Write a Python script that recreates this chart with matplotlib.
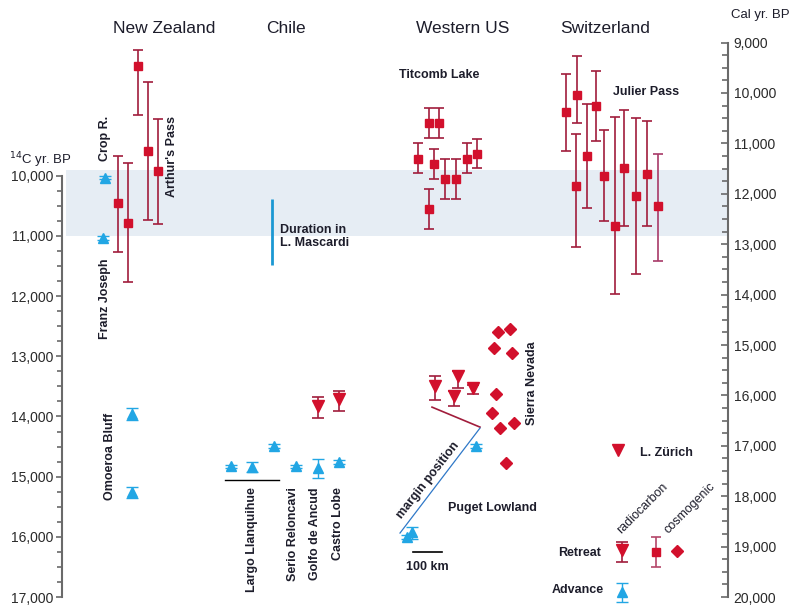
import numpy as np
import matplotlib
matplotlib.use("Agg")
import matplotlib.pyplot as plt
from matplotlib.ticker import FuncFormatter

plt.rcParams['font.family'] = ['Liberation Sans', 'DejaVu Sans']

# ---- data (ages in 14C yr BP) ----
# New Zealand, retreat (radiocarbon) - Arthur's Pass group
nz_ret_age = [10460, 10780, 8180, 9590, 9930]
nz_ret_lo = [9670, 9790, 7910, 8440, 9060]
nz_ret_hi = [11260, 11760, 8990, 10730, 10800]
# New Zealand, advances: Crop R., Franz Joseph, Omoeroa Bluff x2
nz_adv_age = [10030, 11040, 13960, 15260]
nz_adv_lo = [10000, 11010, 13860, 15170]
nz_adv_hi = [10060, 11070, 14060, 15350]

# Chile advances
cl_adv_age = [14830, 14840, 14490, 14830, 14860, 14760]
cl_adv_lo = [14800, 14760, 14460, 14800, 14710, 14730]
cl_adv_hi = [14860, 14920, 14520, 14860, 15020, 14790]
# Chile retreat (radiocarbon)
cl_ret_age = [13830, 13710]
cl_ret_lo = [13680, 13580]
cl_ret_hi = [14030, 13910]
# Duration in L. Mascardi
mascardi = [10380, 11490]

# Western US - Titcomb Lake retreat (radiocarbon)
tl_age = [9720, 9120, 9120, 10550, 9800, 10050, 10050, 9720, 9640]
tl_lo = [9450, 8870, 8870, 10220, 9550, 9720, 9720, 9450, 9390]
tl_hi = [9950, 9370, 9370, 10880, 10050, 10380, 10380, 9950, 9880]
# Western US retreat triangles
wu_ret_age = [13500, 13330, 13660, 13530]
wu_ret_lo = [13330, 13250, 13580, 13470]
wu_ret_hi = [13730, 13530, 13830, 13620]
# Sierra Nevada cosmogenic
sn_age = [12600, 12540, 12870, 12940, 13620, 13950, 14200, 14110, 14780]
# Puget Lowland advances
pl_age = [14490, 16000, 15920]
pl_lo = [14460, 15970, 15830]
pl_hi = [14520, 16030, 16030]

# Switzerland - Julier Pass retreat (radiocarbon)
ch_age = [8940, 8660, 10170, 9670, 8840, 10000, 10830, 9870, 10330, 9970, 10510]
ch_lo = [8310, 8010, 9300, 8810, 8260, 9240, 9020, 8910, 9040, 9090, 9640]
ch_hi = [9590, 9120, 11190, 10530, 9420, 10760, 11970, 10830, 11640, 10830, 11410]

# Younger Dryas band
yd_band = [9900, 11000]

# legend keys
key_ret_rc = [16220, 16090, 16420]
key_ret_sq = [16250, 16000, 16500]
key_ret_cos = 16230
key_adv = [16920, 16760, 17080]
key_zurich = 14560

# ---- layout (x slots in pixel-like units) ----
nz_ret_x = [118, 128, 138, 148, 158]
nz_adv_x = [105, 103, 132, 132]
cl_adv_x = [231, 252, 274, 296, 318, 339]
cl_ret_x = [318, 339]
tl_x = [418, 429, 439, 429, 434, 445, 456, 467, 477]
wu_ret_x = [435, 458, 454, 473]
sn_x = [498, 510, 494, 512, 496, 492, 500, 514, 506]
pl_x = [476, 407, 412]
ch_x = [566, 577, 576, 587, 596, 604, 615, 624, 636, 647, 658]

RED = '#d2102c'
DRED = '#a11d3c'
BLUE = '#22a6e4'
TXT = '#1d1d2b'
AX = '#6a6a6a'

fig = plt.figure(figsize=(8, 6.14), dpi=100)
ax = fig.add_axes([62 / 800, 0, (728 - 62) / 800, 1])
ax.set_xlim(62, 728)
ax.set_ylim(17282, 7081)


def errs(age, lo, hi):
    a = np.array(age)
    return [a - np.array(lo), np.array(hi) - a]


def retreat_sq(x, age, lo, hi, ecol=DRED):
    ax.errorbar(x, age, yerr=errs(age, lo, hi), fmt='s', color=RED, ms=6,
                ecolor=ecol, elinewidth=1.2, capsize=3.5, capthick=1.2, zorder=3)


def retreat_tri(x, age, lo, hi):
    ax.errorbar(x, age, yerr=errs(age, lo, hi), fmt='v', color=RED, ms=8,
                ecolor=DRED, elinewidth=1.2, capsize=4, capthick=1.2, zorder=3)


def advance(x, age, lo, hi):
    ax.errorbar(x, age, yerr=errs(age, lo, hi), fmt='^', color=BLUE, ms=7,
                ecolor=BLUE, elinewidth=1.0, capsize=4, capthick=1.0, zorder=3)


# shaded band
ax.axhspan(yd_band[0], yd_band[1], xmin=0.006, xmax=1, color='#e6edf4', zorder=0, lw=0)

# New Zealand
retreat_sq(nz_ret_x, nz_ret_age, nz_ret_lo, nz_ret_hi)
advance(nz_adv_x, nz_adv_age, nz_adv_lo, nz_adv_hi)

# Chile
advance(cl_adv_x, cl_adv_age, cl_adv_lo, cl_adv_hi)
retreat_tri(cl_ret_x, cl_ret_age, cl_ret_lo, cl_ret_hi)
ax.plot([272, 272], mascardi, color='#1b98d3', lw=2, solid_capstyle='butt')
ax.plot([225, 279], [15055, 15055], color='black', lw=1)

# Western US
retreat_sq(tl_x, tl_age, tl_lo, tl_hi)
retreat_tri(wu_ret_x, wu_ret_age, wu_ret_lo, wu_ret_hi)
ax.plot(sn_x, sn_age, 'D', color=RED, ms=6, zorder=3)
advance(pl_x, pl_age, pl_lo, pl_hi)
ax.plot([432, 480], [13845, 14177], color=DRED, lw=1.2)
ax.plot([400, 480], [15937, 14193], color='#2f78c8', lw=0.9)
ax.plot([413, 442], [16253, 16253], color='black', lw=1.2)

# Switzerland
retreat_sq(ch_x[:-1], ch_age[:-1], ch_lo[:-1], ch_hi[:-1])
retreat_sq(ch_x[-1:], ch_age[-1:], ch_lo[-1:], ch_hi[-1:], ecol='#a83a68')

# legend keys
ax.plot([618], [key_zurich], 'v', color=RED, ms=9)
retreat_tri([622], [key_ret_rc[0]], [key_ret_rc[1]], [key_ret_rc[2]])
retreat_sq([656], [key_ret_sq[0]], [key_ret_sq[1]], [key_ret_sq[2]], ecol='#b4476a')
ax.plot([677], [key_ret_cos], 'D', color=RED, ms=6)
advance([622], [key_adv[0]], [key_adv[1]], [key_adv[2]])

# texts
for name, xc in [('New Zealand', 164), ('Chile', 286), ('Western US', 463), ('Switzerland', 605)]:
    ax.text(xc, 7550, name, ha='center', va='center', fontsize=12.5, color=TXT)

bold = dict(fontsize=9, fontweight='bold', color=TXT)
ax.text(105, 9374, 'Crop R.', rotation=90, ha='center', va='center', **bold)
ax.text(172, 9689, "Arthur's Pass", rotation=90, ha='center', va='center', **bold)
ax.text(105, 12048, 'Franz Joseph', rotation=90, ha='center', va='center', **bold)
ax.text(110, 14672, 'Omoeroa Bluff', rotation=90, ha='center', va='center', **bold)
for name, xc in [('Largo Llanquihue', 252), ('Serio Reloncavi', 293),
                 ('Golfo de Ancud', 315), ('Castro Lobe', 338)]:
    ax.text(xc, 15174, name, rotation=90, ha='center', va='top', **bold)
ax.text(280, 11010, 'Duration in\nL. Mascardi', ha='left', va='center', linespacing=1.1, **bold)
ax.text(439, 8327, 'Titcomb Lake', ha='center', va='center', **bold)
ax.text(532, 13444, 'Sierra Nevada', rotation=90, ha='center', va='center', **bold)
ax.text(428, 15056, 'margin position', rotation=52, ha='center', va='center',
        rotation_mode='anchor', **bold)
ax.text(492, 15524, 'Puget Lowland', ha='center', va='center', **bold)
ax.text(427, 16501, '100 km', ha='center', va='center', **bold)
ax.text(646, 8609, 'Julier Pass', ha='center', va='center', **bold)
ax.text(640, 14607, 'L. Zürich', ha='left', va='center', **bold)
ax.text(601, 16268, 'Retreat', ha='right', va='center', **bold)
ax.text(604, 16883, 'Advance', ha='right', va='center', **bold)
ax.text(642, 15524, 'radiocarbon', rotation=45, ha='center', va='center',
        rotation_mode='anchor', fontsize=9, color=TXT)
ax.text(690, 15524, 'cosmogenic', rotation=45, ha='center', va='center',
        rotation_mode='anchor', fontsize=9, color=TXT)
ax.text(40, 9739, r'$^{14}$C yr. BP', ha='center', va='center', fontsize=9.5, color=TXT)
ax.text(760, 7330, 'Cal yr. BP', ha='center', va='center', fontsize=9.5, color=TXT)

# axes styling
fmt = FuncFormatter(lambda v, p: f'{int(v):,}')
for s in ['top', 'bottom', 'right']:
    ax.spines[s].set_visible(False)
ax.spines['left'].set_bounds(10000, 17000)
ax.spines['left'].set_color(AX)
ax.spines['left'].set_linewidth(1.5)
ax.set_xticks([])
ax.set_yticks(np.arange(10000, 17001, 1000))
ax.set_yticks(np.arange(10000, 17001, 250), minor=True)
ax.yaxis.set_major_formatter(fmt)
ax.tick_params(axis='y', which='both', colors=AX, labelcolor='#2a2a2a', labelsize=10,
               width=1.2, pad=2)
ax.tick_params(axis='y', which='major', length=4)
ax.tick_params(axis='y', which='minor', length=3.5)

ax2 = ax.twinx()
ax2.set_ylim(20337, 8155)
for s in ['top', 'bottom', 'left']:
    ax2.spines[s].set_visible(False)
ax2.spines['right'].set_bounds(9000, 20000)
ax2.spines['right'].set_color(AX)
ax2.spines['right'].set_linewidth(1.5)
ax2.set_yticks(np.arange(9000, 20001, 1000))
ax2.set_yticks(np.arange(9000, 20001, 250), minor=True)
ax2.yaxis.set_major_formatter(fmt)
ax2.tick_params(axis='y', which='both', direction='in', colors=AX, labelcolor='#2a2a2a',
                labelsize=10, width=1.2, pad=4)
ax2.tick_params(axis='y', which='major', length=5)
ax2.tick_params(axis='y', which='minor', length=4)

fig.savefig('out.png', dpi=100)
